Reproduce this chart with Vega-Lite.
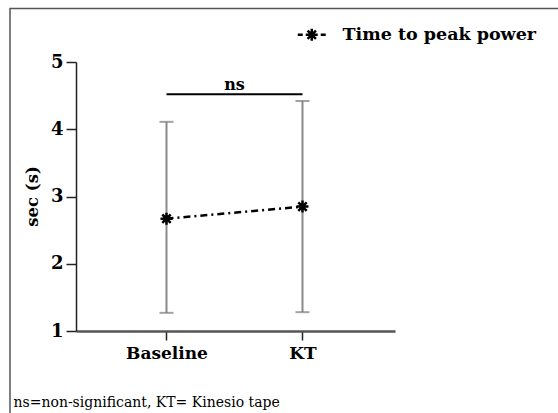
{
  "$schema": "https://vega.github.io/schema/vega-lite/v6.json",
  "width": 319,
  "height": 269,
  "autosize": {"type": "none"},
  "padding": {"left": 76, "top": 62, "right": 163, "bottom": 82},
  "background": "white",
  "config": {
    "view": {"stroke": null},
    "font": "DejaVu Serif"
  },
  "datasets": {
    "summary": [
      {"condition": "Baseline", "pos": 1, "mean": 2.67, "lo": 1.27, "hi": 4.11, "series": "Time to peak power"},
      {"condition": "KT", "pos": 2, "mean": 2.85, "lo": 1.28, "hi": 4.42, "series": "Time to peak power"}
    ],
    "bracket": [
      {"from": 1, "to": 2, "mid": 1.5, "level": 4.52, "label": "ns"}
    ]
  },
  "layer": [
    {
      "data": {"values": [{"frame": "border"}]},
      "mark": {"type": "rect", "fill": "transparent", "stroke": "#555", "strokeWidth": 1.5, "clip": false},
      "encoding": {
        "x": {"datum": -0.1507, "type": "quantitative"},
        "x2": {"datum": 4.5},
        "y": {"datum": 5.7955, "type": "quantitative"},
        "y2": {"datum": -1.5}
      }
    },
    {
      "data": {"name": "summary"},
      "mark": {"type": "rule", "color": "#8a8a8a", "strokeWidth": 2},
      "encoding": {
        "x": {"field": "pos", "type": "quantitative",
              "scale": {"domain": [0.3346, 2.6802], "nice": false, "zero": false},
              "axis": {
                "values": [1, 2],
                "labelExpr": "datum.value == 1 ? 'Baseline' : 'KT'",
                "title": "ns=non-significant, KT= Kinesio tape",
                "titleFont": "DejaVu Serif",
                "titleFontSize": 14,
                "titleFontWeight": "normal",
                "titleColor": "black",
                "titleX": -63,
                "titleY": 71,
                "titleAlign": "left",
                "titleBaseline": "middle",
                "grid": false,
                "domainColor": "#555",
                "domainWidth": 2.5,
                "tickColor": "#222",
                "tickWidth": 1.5,
                "tickSize": 9,
                "labelFontSize": 17,
                "labelFontWeight": "bold",
                "labelFont": "DejaVu Serif",
                "labelColor": "black",
                "labelPadding": 5
              }},
        "y": {"field": "lo", "type": "quantitative",
              "scale": {"domain": [1, 5], "nice": false, "zero": false},
              "axis": {
                "values": [1, 2, 3, 4, 5],
                "format": "d",
                "title": "sec (s)",
                "grid": false,
                "domainColor": "#222",
                "domainWidth": 1.5,
                "tickColor": "#222",
                "tickWidth": 1.5,
                "tickSize": 10,
                "labelFontSize": 18,
                "labelFontWeight": "bold",
                "labelFont": "DejaVu Serif",
                "labelColor": "black",
                "labelPadding": 3,
                "titleFont": "DejaVu Serif",
                "titleFontSize": 16.5,
                "titleFontWeight": "bold",
                "titleColor": "black",
                "titleX": -44,
                "titleY": 134,
                "titleAngle": -90,
                "titleBaseline": "middle",
                "titleAlign": "center"
              }},
        "y2": {"field": "hi"}
      }
    },
    {
      "data": {"name": "summary"},
      "mark": {"type": "tick", "orient": "horizontal", "color": "#7a7a7a", "size": 14, "thickness": 2},
      "encoding": {
        "x": {"field": "pos", "type": "quantitative"},
        "y": {"field": "lo", "type": "quantitative"}
      }
    },
    {
      "data": {"name": "summary"},
      "mark": {"type": "tick", "orient": "horizontal", "color": "#7a7a7a", "size": 14, "thickness": 2},
      "encoding": {
        "x": {"field": "pos", "type": "quantitative"},
        "y": {"field": "hi", "type": "quantitative"}
      }
    },
    {
      "data": {"name": "summary"},
      "mark": {"type": "line", "color": "black", "strokeWidth": 2.5, "strokeDash": [7, 4, 2, 4]},
      "encoding": {
        "x": {"field": "pos", "type": "quantitative"},
        "y": {"field": "mean", "type": "quantitative"}
      }
    },
    {
      "data": {"name": "summary"},
      "mark": {"type": "point", "filled": false, "strokeWidth": 2.5, "size": 144, "opacity": 1,
               "shape": "M-1,0L1,0M0,-1L0,1M-0.7,-0.7L0.7,0.7M-0.7,0.7L0.7,-0.7"},
      "encoding": {
        "x": {"field": "pos", "type": "quantitative"},
        "y": {"field": "mean", "type": "quantitative"},
        "color": {"field": "series", "type": "nominal",
                  "scale": {"range": ["black"]},
                  "legend": {
                    "orient": "none",
                    "legendX": 227,
                    "legendY": -36,
                    "padding": 0,
                    "title": null,
                    "symbolType": "M-2.33,0L-1.5,0M-1,0L1,0M0,-1L0,1M-0.7,-0.7L0.7,0.7M-0.7,0.7L0.7,-0.7M1.5,0L2.33,0",
                    "symbolSize": 144,
                    "symbolStrokeWidth": 2.5,
                    "labelOffset": 22,
                    "labelFontSize": 17.5,
                    "labelFontWeight": "bold",
                    "labelFont": "DejaVu Serif",
                    "labelColor": "black",
                    "labelLimit": 400
                  }}
      }
    },
    {
      "data": {"name": "bracket"},
      "mark": {"type": "rule", "color": "black", "strokeWidth": 2},
      "encoding": {
        "x": {"field": "from", "type": "quantitative"},
        "x2": {"field": "to"},
        "y": {"field": "level", "type": "quantitative"}
      }
    },
    {
      "data": {"name": "bracket"},
      "mark": {"type": "text", "fontSize": 16, "fontWeight": "bold", "font": "DejaVu Serif", "color": "black", "baseline": "alphabetic", "dy": -4},
      "encoding": {
        "x": {"field": "mid", "type": "quantitative"},
        "y": {"field": "level", "type": "quantitative"},
        "text": {"field": "label"}
      }
    }
  ]
}
